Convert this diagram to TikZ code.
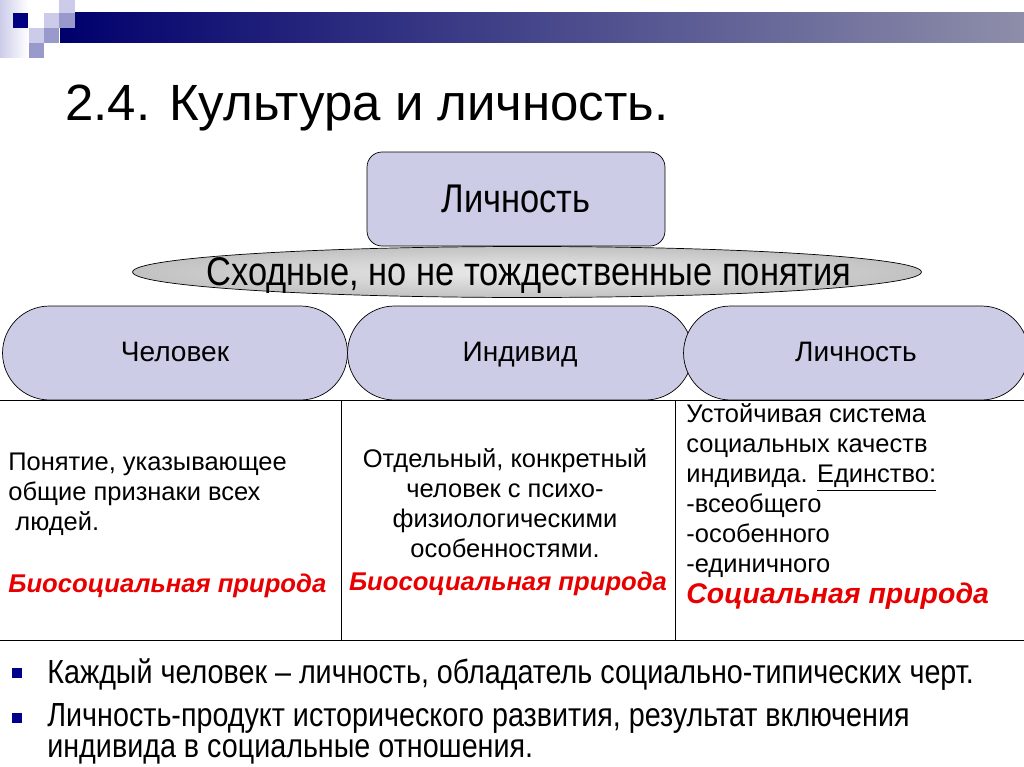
\documentclass[tikz,border=0pt]{standalone}
\usepackage{fontspec}
\setmainfont{Liberation Sans}
\newfontfamily\narrowfont[FakeStretch=0.86]{Liberation Sans}
\usetikzlibrary{shapes.geometric}

\definecolor{lav}{RGB}{204,204,230}
\definecolor{navy}{RGB}{0,0,128}
\definecolor{midlav}{RGB}{153,153,204}
\definecolor{palelav}{RGB}{204,204,234}
\definecolor{bartail}{RGB}{142,142,170}
\definecolor{redtxt}{RGB}{232,0,0}
\definecolor{bulletblue}{RGB}{0,0,140}

\tikzset{
  concept/.style={draw=black, fill=lav, rounded corners=0.94cm, minimum width=6.9cm, minimum height=1.88cm, text height=1.05em, text depth=0.1em, font=\fontsize{16}{18}\selectfont},
  cell/.style={font=\fontsize{14.5}{17}\selectfont, inner sep=0pt},
  nature/.style={text=redtxt, font=\bfseries\itshape\fontsize{14.6}{17}\selectfont, inner sep=0pt},
  bullettext/.style={font=\narrowfont\fontsize{19}{17.5}\selectfont, inner sep=0pt, align=left}
}

\begin{document}
\begin{tikzpicture}[x=0.02cm, y=-0.02cm]
	\useasboundingbox (0,0) rectangle (1024,767);
	% decoration top left
	\shade[left color=palelav, right color=white] (0,0) rectangle (28,58);
	\shade[left color=navy!85!black, right color=bartail] (60,13) rectangle (1024,43);
	\fill[navy] (12.7,13.3) rectangle (28.3,28.3);
	\fill[palelav] (44.3,13.3) rectangle (59.3,28.3);
	\fill[palelav] (59.3,0) rectangle (75,13.3);
	\fill[midlav] (59.3,13.3) rectangle (75,28.3);
	\fill[palelav] (29.3,28.3) rectangle (44.3,43.3);
	\fill[midlav] (44.3,28.3) rectangle (59.3,43.3);
	\fill[midlav] (29.3,43.3) rectangle (44.3,58.3);

	\node[anchor=base west, inner sep=0pt, font=\fontsize{29}{32}\selectfont] (title) at (65,120) {2.4. Культура и личность.};

	\node[draw=black, fill=lav, rounded corners=0.3cm, minimum width=5.96cm, minimum height=1.88cm, font=\narrowfont\fontsize{22.8}{24}\selectfont] (top) at (516,199) {Личность};
	\node[ellipse, draw=black, inner color=gray!15, outer color=gray!48, minimum width=15.78cm, minimum height=1.02cm] (common) at (527,272) {};
	\node[anchor=base, inner sep=0pt, font=\narrowfont\fontsize{22.8}{24}\selectfont] (commontext) at (529,285) {Сходные, но не тождественные понятия};

	\node[concept] (human) at (175,353) {Человек};
	\node[concept] (indiv) at (520,353) {Индивид};
	\node[concept] (person) at (856,353) {Личность};

	% table
	\draw (0,400) -- (1024,400);
	\draw (0,640) -- (1024,640);
	\draw (341,400) -- (341,640);
	\draw (675,400) -- (675,640);

	\node[cell, anchor=base west, align=left] (c1) at (8,530) {Понятие, указывающее\\общие признаки всех\\\ людей.};
	\node[nature, anchor=base west] (c1n) at (8,592) {Биосоциальная природа};

	\node[cell, anchor=base, align=center] (c2) at (505,557) {Отдельный, конкретный\\человек с психо-\\физиологическими\\особенностями.};
	\node[nature, anchor=base] (c2n) at (508,590) {Биосоциальная природа};

	\node[cell, anchor=base west, align=left] (c3) at (686,572) {Устойчивая система\\социальных качеств\\индивида. \underline{Единство:}\\-всеобщего\\-особенного\\-единичного};
	\node[nature, anchor=base west, font=\bfseries\itshape\fontsize{16.2}{18}\selectfont] (c3n) at (686,603) {Социальная природа};

	% bullets
	\fill[bulletblue] (12,668) rectangle (22,678);
	\fill[bulletblue] (12,713) rectangle (22,723);
	\node[bullettext, anchor=base west] (b1) at (47,683) {Каждый человек – личность, обладатель социально-типических черт.};
	\node[bullettext, anchor=base west] (b2) at (47,757) {Личность-продукт исторического развития, результат включения\\индивида в социальные отношения.};
\end{tikzpicture}
\end{document}
